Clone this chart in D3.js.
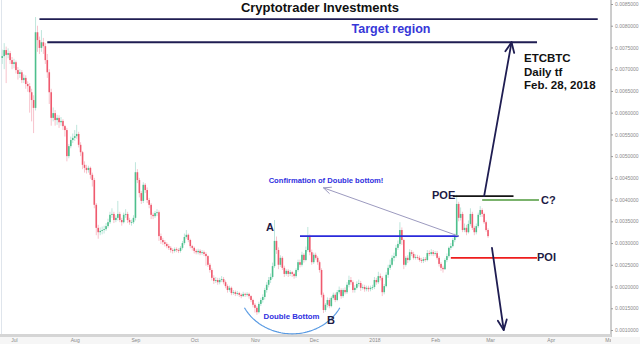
<!DOCTYPE html>
<html><head><meta charset="utf-8">
<script src="https://cdn.jsdelivr.net/npm/d3@7"></script>
<style>
html,body{margin:0;padding:0;background:#fff;}
svg{display:block;font-family:"Liberation Sans",Arial,sans-serif;}
</style>
</head><body>
<svg id="c" width="640" height="344"></svg>
<script>
// ---------------- DATA (ETCBTC daily, prices in units of 0.00001 BTC) ----------------
const startDate = "2017-06-25";
const firstOpenE5 = 726;
const closeE5 = [
 730,744,733,737,721,712,716,698,689,693,
 675,680,666,661,647,629,611,785,767,749,
 762,753,721,693,647,588,599,583,588,578,
 581,569,560,500,523,537,542,546,551,526,
 509,480,473,468,473,457,445,388,335,325,
 328,330,332,339,348,365,367,353,358,367,
 353,348,365,367,353,348,348,358,463,445,
 415,397,434,422,399,388,365,362,369,371,
 316,307,302,298,293,289,284,282,286,284,
 282,289,300,314,319,307,293,289,282,279,
 282,277,279,275,270,250,238,220,213,215,
 210,215,217,210,201,192,197,185,187,183,
 185,181,178,183,181,183,178,169,158,151,
 141,160,169,176,192,204,215,222,247,305,
 284,250,266,243,229,236,229,233,229,224,
 238,256,250,273,261,284,316,279,256,273,
 266,256,238,181,146,158,169,155,174,181,
 169,187,192,178,192,187,204,215,210,192,
 197,206,208,197,199,194,197,194,197,199,
 215,210,224,220,187,201,227,243,250,266,
 270,289,298,330,307,250,266,261,279,275,
 266,268,266,261,259,263,261,277,275,279,
 275,277,266,252,243,240,261,270,289,293,
 307,316,390,358,367,330,335,325,344,367,
 335,325,339,365,376,367,348,330,316
];
const highE5 = [
 745,760,752,748,742,728,724,720,705,700,
 698,688,686,672,668,655,640,820,800,775,
 790,772,760,735,700,655,612,606,595,594,
 590,585,572,565,528,545,552,560,572,556,
 532,512,488,480,478,476,462,450,392,342,
 336,338,340,346,356,372,380,372,364,397,
 372,358,370,378,372,358,354,364,486,470,
 450,420,440,438,428,404,392,370,374,378,
 375,322,312,307,302,298,293,288,290,290,
 288,293,305,322,330,322,310,296,292,286,
 287,286,284,283,279,272,254,242,226,222,
 220,220,224,222,214,205,202,200,192,191,
 190,188,184,188,186,187,186,180,172,162,
 155,165,174,182,197,210,222,230,255,353,
 315,290,272,270,248,240,240,238,236,232,
 242,262,262,280,277,292,337,320,285,278,
 278,270,260,242,186,162,175,174,178,186,
 186,192,200,196,196,198,210,225,222,214,
 203,212,216,213,205,204,202,202,202,204,
 222,220,234,230,224,206,233,250,262,272,
 278,296,306,348,336,310,270,272,286,284,
 280,274,273,271,266,268,268,284,283,286,
 284,282,282,270,256,248,265,276,292,300,
 312,322,411,395,382,372,345,342,352,380,
 372,340,345,370,385,380,370,352,334
];
const lowE5 = [
 712,700,668,725,712,700,702,690,676,680,
 668,668,655,648,600,580,553,605,740,735,
 740,735,712,680,620,570,580,570,572,565,
 570,560,545,488,495,518,530,535,540,520,
 500,470,462,460,462,448,430,380,318,310,
 318,320,322,328,335,344,358,346,348,352,
 348,340,345,358,346,342,340,344,352,438,
 405,390,392,415,392,380,355,355,358,362,
 305,298,296,292,288,284,278,276,278,279,
 277,278,285,296,310,302,288,283,276,274,
 274,272,273,270,248,245,232,214,206,208,
 204,205,210,205,196,186,188,180,181,178,
 179,176,173,176,176,177,172,164,152,140,
 135,138,155,163,170,186,198,208,218,243,
 275,240,245,238,222,225,222,224,222,218,
 220,234,244,246,255,258,280,272,250,252,
 262,250,232,175,139,142,152,150,152,170,
 164,166,182,172,174,182,183,198,204,186,
 186,193,200,190,193,188,189,188,189,192,
 194,204,206,214,178,182,198,220,238,246,
 258,266,284,294,296,240,246,254,258,270,
 262,262,262,257,254,254,257,258,270,271,
 270,271,262,246,236,232,238,256,266,284,
 290,302,312,350,352,325,325,318,322,340,
 330,318,320,335,360,360,344,326,312
];
const monthTicks = ["2017-07-01","2017-08-01","2017-09-01","2017-10-01","2017-11-01","2017-12-01",
                    "2018-01-01","2018-02-01","2018-03-01","2018-04-01","2018-05-01"];
const monthLabels = ["Jul","Aug","Sep","Oct","Nov","Dec","2018","Feb","Mar","Apr","May"];
const priceTicks = [0.0010,0.0015,0.0020,0.0025,0.0030,0.0035,0.0040,0.0045,
                    0.0050,0.0055,0.0060,0.0065,0.0070,0.0075,0.0080,0.0085];
// annotation levels (date range, price)
const targetTop = {from:"2017-07-14", to:"2018-04-25", price:0.00815};
const targetBottom = {from:"2017-07-18", to:"2018-03-25", price:0.00762};
const neckline = {from:"2017-11-24", to:"2018-02-13", price:0.00316};
const poeLevel = {from:"2018-02-10", to:"2018-03-13", price:0.00408};
const cLevel = {from:"2018-02-25", to:"2018-03-26", price:0.00399};
const poiLevel = {from:"2018-02-09", to:"2018-03-25", price:0.00266};
const upArrow = {from:["2018-02-26",0.00408], to:["2018-03-12",0.00762]};
const downArrow = {from:["2018-03-02",0.00289], to:["2018-03-08",0.00100]};
const confirmArrow = {from:["2018-02-13",0.00316], to:["2017-12-06",0.00427]};
const bottomArc = {center:["2017-11-20",0.00204]};

// ---------------- BUILD ----------------
const E5 = 1e-5;
const t0 = new Date(startDate);
const candles = closeE5.map((c, i) => ({
  date: d3.utcDay.offset(t0, i),
  open: (i === 0 ? firstOpenE5 : closeE5[i-1]) * E5,
  close: c * E5,
  high: highE5[i] * E5,
  low: lowE5[i] * E5
}));

const svg = d3.select("#c");
const W = 640, H = 344, axisX = 611, bandY = 334;

const x = d3.scaleUtc()
  .domain([new Date("2017-07-01"), new Date("2018-03-01")])
  .range([14, 490]);
const y = d3.scaleLinear().domain([0.0010, 0.0085]).range([330, 4]);
const xd = s => x(new Date(s));

// background pieces
svg.append("rect").attr("x",0).attr("y",0).attr("width",W).attr("height",H).attr("fill","#fff");
svg.append("rect").attr("x",0).attr("y",bandY+3).attr("width",W).attr("height",H-bandY-3).attr("fill","#f6f6f6");
svg.append("line").attr("x1",1.5).attr("x2",1.5).attr("y1",0).attr("y2",bandY)
  .attr("stroke","#dfe5ec").attr("stroke-width",1);

// candles
const cg = svg.append("g");
cg.selectAll("line.w").data(candles).join("line").attr("class","w")
  .attr("x1", d => x(d.date)).attr("x2", d => x(d.date))
  .attr("y1", d => y(d.high)).attr("y2", d => y(d.low))
  .attr("stroke", d => d.close >= d.open ? "#bfe6dc" : "#f7c3cc")
  .attr("stroke-width", 1);
cg.selectAll("rect.b").data(candles).join("rect").attr("class","b")
  .attr("x", d => x(d.date) - 0.8).attr("width", 1.6)
  .attr("y", d => y(Math.max(d.open, d.close)))
  .attr("height", d => Math.max(0.8, Math.abs(y(d.open) - y(d.close))))
  .attr("fill", d => d.close >= d.open ? "#4dbf8c" : "#ef5a6e");

// right price axis
const ya = svg.append("g").attr("transform", `translate(${axisX},0)`)
  .call(d3.axisRight(y).tickValues(priceTicks).tickFormat(d3.format(".7f")).tickSize(2).tickPadding(2));
ya.select(".domain").attr("stroke","#9a9a9a").attr("d", `M0,0V${bandY+3}`);
ya.selectAll(".tick line").attr("stroke","#9a9a9a");
ya.selectAll(".tick text").attr("fill","#8a8a8a").style("font-size","5px").style("font-family","Liberation Sans, Arial, sans-serif");

// bottom band + month axis
svg.append("rect").attr("x",0).attr("y",bandY).attr("width",axisX).attr("height",3).attr("fill","#d5d5d5");
svg.append("clipPath").attr("id","xclip").append("rect")
  .attr("x",0).attr("y",0).attr("width",axisX).attr("height",H-bandY);
const xa = svg.append("g").attr("transform", `translate(0,${bandY+3})`).attr("clip-path","url(#xclip)")
  .call(d3.axisBottom(x).tickValues(monthTicks.map(s => new Date(s)))
    .tickFormat((d, i) => monthLabels[i]).tickSize(0).tickPadding(1.5));
xa.select(".domain").remove();
xa.selectAll(".tick text").attr("fill","#8a8a8a").style("font-size","5px").style("font-family","Liberation Sans, Arial, sans-serif");

// ---------------- ANNOTATIONS ----------------
const navy = "#1f1d52";
function hline(lv, color, w) {
  svg.append("line").attr("x1", xd(lv.from)).attr("x2", xd(lv.to))
    .attr("y1", y(lv.price)).attr("y2", y(lv.price))
    .attr("stroke", color).attr("stroke-width", w);
}
function arrow(a, color, w, head) {
  const x1 = xd(a.from[0]), y1 = y(a.from[1]), x2 = xd(a.to[0]), y2 = y(a.to[1]);
  svg.append("line").attr("x1",x1).attr("y1",y1).attr("x2",x2).attr("y2",y2)
    .attr("stroke",color).attr("stroke-width",w).attr("stroke-linecap","round");
  const ang = Math.atan2(y1 - y2, x1 - x2);
  const p = d3.path();
  p.moveTo(x2 + head*Math.cos(ang+0.42), y2 + head*Math.sin(ang+0.42));
  p.lineTo(x2, y2);
  p.lineTo(x2 + head*Math.cos(ang-0.42), y2 + head*Math.sin(ang-0.42));
  svg.append("path").attr("d", p.toString()).attr("fill","none")
    .attr("stroke",color).attr("stroke-width",w).attr("stroke-linecap","round").attr("stroke-linejoin","round");
}

hline(targetTop, navy, 1.8);
hline(targetBottom, navy, 1.8);
hline(neckline, "#2a2adb", 1.6);
hline(poiLevel, "#ee1d1d", 1.6);
hline(poeLevel, "#141414", 1.6);
hline(cLevel, "#4f9a3c", 1.6);

arrow(confirmArrow, "#9c9abf", 1, 8);
arrow(upArrow, navy, 1.8, 11);
arrow(downArrow, navy, 1.8, 11);

// double bottom arc (lower half of ellipse)
{
  const cx = xd(bottomArc.center[0]), cy = y(bottomArc.center[1]);
  const rx = 54, ry = 49;
  const pts = d3.range(28, 153, 2).map(a => {
    const r = a * Math.PI / 180;
    return [cx - rx*Math.cos(r) , cy + ry*Math.sin(r)];
  });
  svg.append("path").attr("d", d3.line()(pts)).attr("fill","none")
    .attr("stroke","#5a9be3").attr("stroke-width",1.2);
}

// texts
function txt(s, px, py, size, color, anchor, family) {
  svg.append("text").attr("x",px).attr("y",py).text(s)
    .attr("fill",color).attr("text-anchor",anchor||"start")
    .style("font-size",size+"px").style("font-weight","bold")
    .style("font-family", family || "Liberation Sans, Arial, sans-serif");
}
txt("Cryptotrader Investments", 320, 11.5, 13, "#111", "middle");
txt("Target region", 391, 32.5, 12.5, "#3737d8", "middle");
txt("ETCBTC", 524, 62, 11.5, "#111");
txt("Daily tf", 524, 75.5, 11.5, "#111");
txt("Feb. 28, 2018", 524, 89, 11.5, "#111");
txt("POE", 432, 198.5, 11, "#1d1b45");
txt("C?", 541, 204, 11, "#1d1b45");
txt("POI", 537, 261, 11, "#1d1b45");
txt("A", 266, 230.5, 11, "#1d1b45");
txt("B", 327, 323.5, 11, "#1d1b45");
txt("Confirmation of Double bottom!", 326, 183, 7.6, "#2f2fe0", "middle");
txt("Double Bottom", 291.5, 319, 7.8, "#2f2fe0", "middle");
</script>
</body></html>
